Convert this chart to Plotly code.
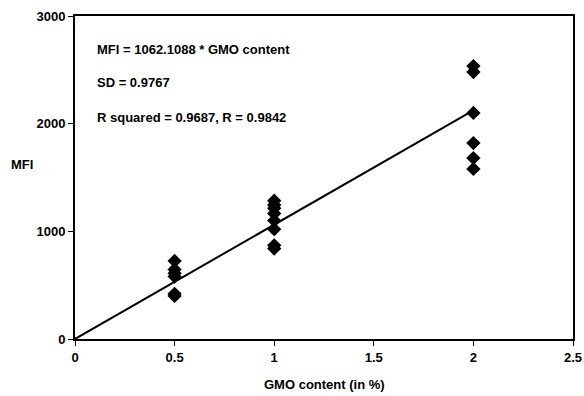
import plotly.graph_objects as go

x_05 = [0.5] * 6
y_05 = [725, 645, 610, 580, 420, 400]
x_1 = [1.0] * 8
y_1 = [1285, 1245, 1215, 1165, 1100, 1020, 870, 840]
x_2 = [2.0] * 6
y_2 = [2535, 2480, 2100, 1820, 1680, 1580]

gmo = x_05 + x_1 + x_2
mfi = y_05 + y_1 + y_2

slope = 1062.1088
fit_x = [0, 2]
fit_y = [slope * v for v in fit_x]

labels = ["MFI = 1062.1088 * GMO content", "SD = 0.9767", "R squared = 0.9687, R = 0.9842"]
label_y = [2693, 2387, 2053]

font = dict(family="Liberation Sans, Arial, sans-serif", size=13, color="black")

fig = go.Figure()
fig.add_trace(go.Scatter(x=fit_x, y=fit_y, mode="lines",
                         line=dict(color="black", width=2), showlegend=False))
fig.add_trace(go.Scatter(x=gmo, y=mfi, mode="markers",
                         marker=dict(symbol="diamond", size=11, color="black"),
                         showlegend=False))

for t, yy in zip(labels, label_y):
    fig.add_annotation(x=0.1, y=yy, xref="x", yref="y", text="<b>%s</b>" % t,
                       showarrow=False, xanchor="left", yanchor="middle",
                       font=font)

fig.update_layout(
    width=584, height=396,
    margin=dict(l=75, r=11, t=16, b=57),
    paper_bgcolor="white", plot_bgcolor="white",
    font=font,
)
fig.update_xaxes(range=[0, 2.5], tickvals=[0, 0.5, 1, 1.5, 2, 2.5],
                 ticktext=["<b>0</b>", "<b>0.5</b>", "<b>1</b>", "<b>1.5</b>", "<b>2</b>", "<b>2.5</b>"],
                 showgrid=False, zeroline=False, showline=True, linecolor="black",
                 linewidth=2, mirror=True, ticks="outside", ticklen=5, tickcolor="black",
                 automargin=False)
fig.update_yaxes(range=[0, 3000], tickvals=[0, 1000, 2000, 3000],
                 ticktext=["<b>0</b>", "<b>1000</b>", "<b>2000</b>", "<b>3000</b>"],
                 showgrid=False, zeroline=False, showline=True, linecolor="black",
                 linewidth=2, mirror=True, ticks="outside", ticklen=5, tickcolor="black",
                 automargin=False)
fig.add_annotation(x=-0.106, y=1620, xref="paper", yref="y", text="<b>MFI</b>",
                   showarrow=False, xanchor="center", yanchor="middle", font=font)
fig.add_annotation(x=0.5, y=-0.142, xref="paper", yref="paper", text="<b>GMO content (in %)</b>",
                   showarrow=False, xanchor="center", yanchor="middle", font=font)

fig.write_html("out.html")
